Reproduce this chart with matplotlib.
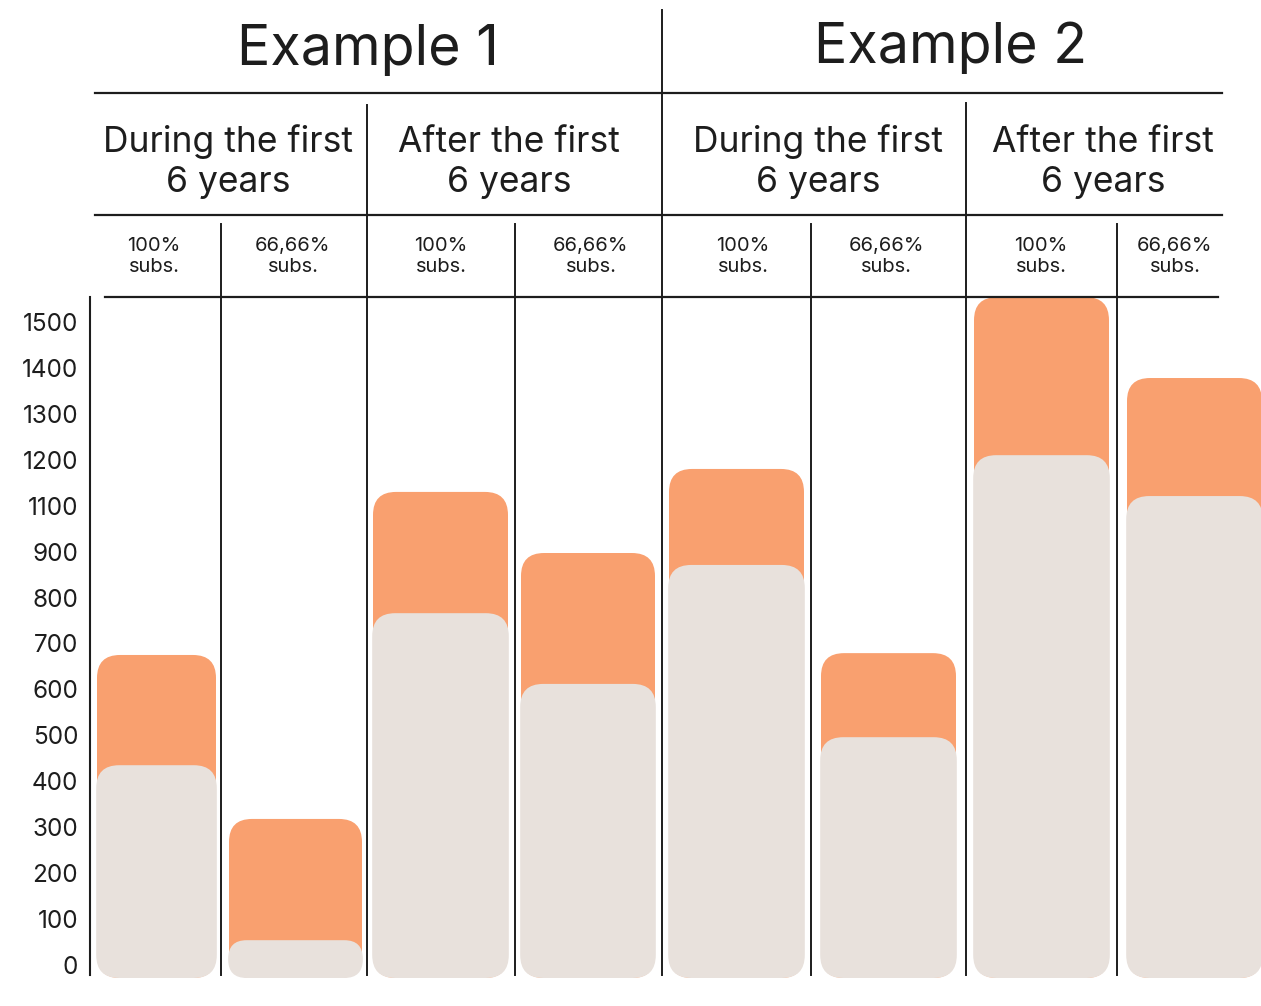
import numpy as np
import matplotlib
matplotlib.use('Agg')
import matplotlib.pyplot as plt
from matplotlib.patches import FancyBboxPatch

plt.rcParams['font.family'] = ['Inter', 'DejaVu Sans']

# ---- data ----
groups = ['Example 1', 'Example 2']
periods = ['During the first\n6 years', 'After the first\n6 years']
subs = ['100%\nsubs.', '66,66%\nsubs.']

# bar heights (linear position of the tick grid)
total_vals = [675, 318, 1030, 897, 1080, 679, 1454, 1278]
base_vals = [435, 54, 766, 612, 871, 496, 1110, 1021]

tick_pos = list(range(0, 1500, 100))
tick_labels = ['0', '100', '200', '300', '400', '500', '600', '700', '800',
               '900', '1100', '1200', '1300', '1400', '1500']

# ---- layout (pixels) ----
W, H = 1261, 1006
ink = '#1d1d1d'
orange = '#F9A06F'
grey = '#E8E1DC'
px_per_unit = 45.93 / 100
zero_px = 965          # pixel row of the "0" tick
top_px = 297           # top of bar area
floor_px = 978         # bottom of the bars
axis_x = 90

bar_left = [97, 229, 373, 521, 669, 821, 974, 1127]
bar_right = [216, 362, 508, 655, 804, 956, 1109, 1262]
radius = 23


def val(p):
    return (zero_px - p) / px_per_unit


fig = plt.figure(figsize=(W / 100, H / 100), dpi=100)

# bar axes
ax = fig.add_axes([0, 0, 1, (H - top_px) / H])
ax.set_xlim(0, W)
ax.set_ylim(val(H), val(top_px))
ax.patch.set_alpha(0)
for sp in ['top', 'right', 'bottom']:
    ax.spines[sp].set_visible(False)
ax.spines['left'].set_position(('data', axis_x))
ax.spines['left'].set_bounds(val(975), val(top_px))
ax.spines['left'].set_linewidth(1.5)
ax.spines['left'].set_color(ink)
ax.set_xticks([])
ax.set_yticks(tick_pos)
ax.set_yticklabels(tick_labels)
ax.tick_params(axis='y', length=0, pad=8.5, labelsize=17.5, labelcolor=ink)

floor = val(floor_px)
aspect = 1 / px_per_unit


def rbar(x0, x1, top, color, grow=0):
    h_px = (top - floor) * px_per_unit
    r = min(radius, h_px / 2 - 0.5)
    p = FancyBboxPatch((x0 - grow, floor), (x1 - x0) + 2 * grow, top - floor,
                       boxstyle=f"round,pad=0,rounding_size={r}",
                       mutation_aspect=aspect, fc=color, ec='none')
    ax.add_patch(p)


for i in range(len(total_vals)):
    rbar(bar_left[i], bar_right[i], total_vals[i], orange)
    rbar(bar_left[i], bar_right[i], base_vals[i], grey, grow=0.8)

# header / grid overlay in pixel coordinates
ov = fig.add_axes([0, 0, 1, 1])
ov.set_xlim(0, W)
ov.set_ylim(H, 0)
ov.axis('off')
ov.patch.set_alpha(0)

lw = 1.6
ov.plot([95, 1222], [93, 93], color=ink, lw=lw)
ov.plot([95, 1222], [215, 215], color=ink, lw=lw)
ov.plot([105, 1218], [297, 297], color=ink, lw=lw)
ov.plot([662, 662], [10, 975], color=ink, lw=1.4)
for x, y0 in [(367, 105), (966, 103)]:
    ov.plot([x, x], [y0, 975], color=ink, lw=1.4)
for x in [221, 515, 811, 1117]:
    ov.plot([x, x], [224, 975], color=ink, lw=1.4)

# titles
for name, cx, by in zip(groups, [368, 951], [65, 63]):
    ov.text(cx, by, name, ha='center', va='baseline', fontsize=40, color=ink)

# period headers
period_x = [228, 509, 818, 1103]
for k, cx in enumerate(period_x):
    for line, by in zip(periods[k % 2].split('\n'), [152, 192]):
        ov.text(cx, by, line, ha='center', va='baseline', fontsize=25.5, color=ink)

# subscription headers
sub_x = [154, 293, 441, 591, 743, 886, 1041, 1175]
for k, cx in enumerate(sub_x):
    for line, by in zip(subs[k % 2].split('\n'), [251, 272]):
        ov.text(cx, by, line, ha='center', va='baseline', fontsize=14.5, color=ink)

fig.savefig('out.png', dpi=100)
